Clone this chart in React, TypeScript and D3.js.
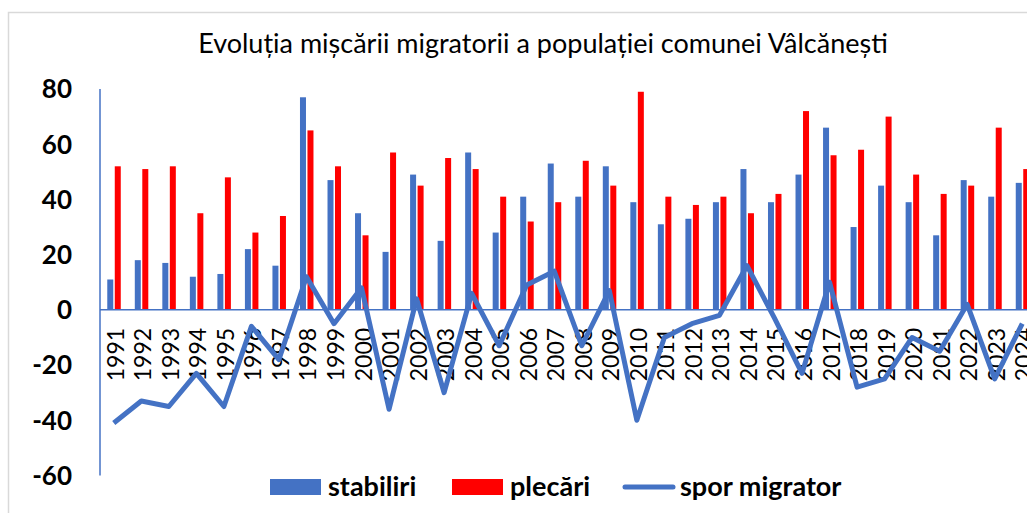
import React, { useRef, useEffect } from 'react';
import * as d3 from 'd3';

const years = [
  '1991', '1992', '1993', '1994', '1995', '1996', '1997', '1998', '1999', '2000',
  '2001', '2002', '2003', '2004', '2005', '2006', '2007', '2008', '2009', '2010',
  '2011', '2012', '2013', '2014', '2015', '2016', '2017', '2018', '2019', '2020',
  '2021', '2022', '2023', '2024',
];
const stabiliri = [11, 18, 17, 12, 13, 22, 16, 77, 47, 35, 21, 49, 25, 57, 28, 41, 53, 41, 52, 39, 31, 33, 39, 51, 39, 49, 66, 30, 45, 39, 27, 47, 41, 46];
const plecari = [52, 51, 52, 35, 48, 28, 34, 65, 52, 27, 57, 45, 55, 51, 41, 32, 39, 54, 45, 79, 41, 38, 41, 35, 42, 72, 56, 58, 70, 49, 42, 45, 66, 51];
const sporMigrator = [-41, -33, -35, -23, -35, -6, -18, 12, -5, 8, -36, 4, -30, 6, -13, 9, 14, -13, 7, -40, -10, -5, -2, 16, -3, -23, 10, -28, -25, -10, -15, 2, -25, -5];
const yTicks = [80, 60, 40, 20, 0, -20, -40, -60];

const title = 'Evoluția mișcării migratorii a populației comunei Vâlcănești';
const BLUE = '#4472C4';
const RED = '#FF0000';

const App: React.FC = () => {
  const ref = useRef<SVGSVGElement | null>(null);

  useEffect(() => {
    if (!ref.current) return;
    const svg = d3.select(ref.current);
    const width = 1027;
    const height = 513;
    svg.attr('width', width).attr('height', height);
    svg.selectAll('*').remove();

    const font = 'Lato, "Open Sans", sans-serif';

    // chart frame (only left and top edges are visible)
    svg.append('rect')
      .attr('x', 0).attr('y', 0).attr('width', width).attr('height', height)
      .attr('fill', '#fff');
    svg.append('path')
      .attr('d', `M8.5,${height} V12.5 H${width}`)
      .attr('fill', 'none')
      .attr('stroke', '#d9d9d9')
      .attr('stroke-width', 1.5);

    const x = d3.scaleBand<string>().domain(years).range([100, 100 + years.length * 27.53]);
    const y = d3.scaleLinear().domain([-60, 80]).range([475.5, 89]);
    const cx = (i: number) => (x(years[i]) as number) + x.bandwidth() / 2;

    svg.append('text')
      .attr('x', 543).attr('y', 53)
      .attr('text-anchor', 'middle')
      .attr('font-family', font)
      .attr('font-size', 27)
      .attr('fill', '#000')
      .text(title);

    // bars
    svg.append('g').selectAll('rect').data(stabiliri).join('rect')
      .attr('x', (d, i) => cx(i) - 6.5)
      .attr('width', 6)
      .attr('y', d => y(d))
      .attr('height', d => y(0) - y(d))
      .attr('fill', BLUE);
    svg.append('g').selectAll('rect').data(plecari).join('rect')
      .attr('x', (d, i) => cx(i) + 1)
      .attr('width', 6)
      .attr('y', d => y(d))
      .attr('height', d => y(0) - y(d))
      .attr('fill', RED);

    // axes
    svg.append('line')
      .attr('x1', 100).attr('x2', width)
      .attr('y1', y(0)).attr('y2', y(0))
      .attr('stroke', BLUE).attr('stroke-width', 1.5);
    svg.append('line')
      .attr('x1', 100).attr('x2', 100)
      .attr('y1', y(80)).attr('y2', y(-60))
      .attr('stroke', BLUE).attr('stroke-width', 1.5);

    svg.append('g').selectAll('text').data(yTicks).join('text')
      .attr('x', 72)
      .attr('y', d => y(d))
      .attr('dy', '0.36em')
      .attr('text-anchor', 'end')
      .attr('font-family', font)
      .attr('font-weight', 'bold')
      .attr('font-size', 26)
      .text(d => d);

    svg.append('g').selectAll('text').data(years).join('text')
      .attr('transform', (d, i) => `translate(${cx(i) + 10},${y(0) + 18}) rotate(-90)`)
      .attr('text-anchor', 'end')
      .attr('font-family', font)
      .attr('font-size', 23)
      .text(d => d);

    // spor migrator line
    const line = d3.line<number>()
      .x((d, i) => cx(i))
      .y(d => y(d));
    svg.append('path')
      .datum(sporMigrator)
      .attr('fill', 'none')
      .attr('stroke', BLUE)
      .attr('stroke-width', 5)
      .attr('stroke-linejoin', 'round')
      .attr('d', line);

    // legend
    const lg = svg.append('g').attr('font-family', font).attr('font-weight', 'bold').attr('font-size', 27);
    lg.append('rect').attr('x', 270).attr('y', 479).attr('width', 51).attr('height', 16).attr('fill', BLUE);
    lg.append('text').attr('x', 328).attr('y', 496).text('stabiliri');
    lg.append('rect').attr('x', 452).attr('y', 479).attr('width', 51).attr('height', 16).attr('fill', RED);
    lg.append('text').attr('x', 510).attr('y', 496).text('plecări');
    lg.append('line').attr('x1', 625).attr('x2', 673).attr('y1', 487).attr('y2', 487)
      .attr('stroke', BLUE).attr('stroke-width', 5).attr('stroke-linecap', 'round');
    lg.append('text').attr('x', 680).attr('y', 496).text('spor migrator');
  }, []);

  return <svg ref={ref} style={{ position: 'absolute', left: 0, top: 0 }}></svg>;
};

export default App;
